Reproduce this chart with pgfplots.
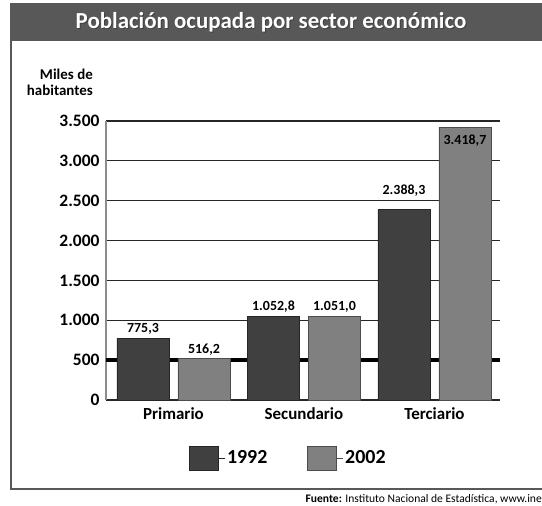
\documentclass[border=0pt]{standalone}
\usepackage{pgfplots}
\pgfplotsset{compat=1.18}
\usepackage{pgfplotstable}
\usepackage{fontspec}
\setmainfont{Carlito}
\definecolor{darkbar}{RGB}{64,64,64}
\definecolor{lightbar}{RGB}{128,128,128}
\definecolor{head}{RGB}{88,88,88}
\pgfplotstableread{
x y lab off
0 775.3 775,3 0
1 1052.8 1.052,8 0
2 2388.3 2.388,3 10
}\tabA
\pgfplotstableread{
x y lab off
0 516.2 516,2 0
1 1051.0 1.051,0 0
2 3418.7 3.418,7 -23
}\tabB
\begin{document}
\begin{tikzpicture}[x=1bp,y=1bp]
\begin{axis}[name=ax, scale only axis,
  width=394bp, height=279bp,
  xmin=-0.517, xmax=2.502, ymin=0, ymax=3500,
  xtick={0,1,2}, xticklabels={Primario,Secundario,Terciario},
  ytick={0,500,...,3500},
  /pgf/number format/1000 sep={.},
  /pgf/number format/assume math mode=true,
  xticklabel style={font=\fontsize{17}{19}\selectfont\bfseries, yshift=-4bp},
  yticklabel style={font=\fontsize{17.5}{20}\selectfont\bfseries, xshift=-3bp},
  major tick length=0,
  axis x line=bottom, axis y line=left,
  x axis line style={-, black!85, line width=1.5},
  y axis line style={-, black!45, line width=1.2},
  ymajorgrids, grid style={black!85, line width=1.2},
  extra y ticks={500}, extra y tick labels={},
  extra y tick style={grid style={black, line width=4}},
  clip=false,
  legend style={at={(0.463,-0.208)}, anchor=center, draw=none, fill=none,
    legend columns=2, font=\fontsize{20}{22}\selectfont\bfseries,
    /tikz/every even column/.append style={column sep=38bp}},
  nodes near coords style={font=\fontsize{14}{16}\selectfont\bfseries, text=black},
]
\addplot[ybar, bar width=52bp, bar shift=-30.5bp, fill=darkbar, draw=black!85, line width=0.8,
  legend image code/.code={\path (0bp,0bp) -- (35bp,0bp); \draw[fill=darkbar, draw=black!85] (0bp,-12bp) rectangle (29bp,12bp);},
  nodes near coords, point meta=explicit symbolic,
  visualization depends on={\thisrow{off} \as \laboff},
  every node near coord/.append style={xshift=-30.5bp, yshift=\laboff bp}]
  table[x=x, y=y, meta=lab] {\tabA};
\addlegendentry{1992}
\addplot[ybar, bar width=52bp, bar shift=30.5bp, fill=lightbar, draw=black!70, line width=0.8,
  legend image code/.code={\path (0bp,0bp) -- (35bp,0bp); \draw[fill=lightbar, draw=black!70] (0bp,-12bp) rectangle (29bp,12bp);},
  nodes near coords, point meta=explicit symbolic,
  visualization depends on={\thisrow{off} \as \laboff},
  every node near coord/.append style={xshift=30.5bp, yshift=\laboff bp}]
  table[x=x, y=y, meta=lab] {\tabB};
\addlegendentry{2002}
\end{axis}
\begin{scope}[shift={(ax.south west)}, shift={(-106,400)}]
\fill[head] (10,-3) rectangle (560,-41);
\draw[head, line width=2] (11,-4) rectangle (560,-489);
\node[text=black!75] at (272,-23.5) {\fontsize{23}{25}\selectfont\bfseries Población ocupada por sector económico};
\node[text=white] at (271,-22.5) {\fontsize{23}{25}\selectfont\bfseries Población ocupada por sector económico};
\node[align=right, anchor=east, inner sep=0, font=\fontsize{15}{16}\selectfont\bfseries] at (93,-82) {Miles de\\habitantes};
\node[anchor=east, inner sep=0, font=\fontsize{11.6}{13}\selectfont] at (542,-499) {\textbf{Fuente:} Instituto Nacional de Estadística, www.ine};
\pgfresetboundingbox
\path[use as bounding box] (0,0) rectangle (542,-506);
\end{scope}
\end{tikzpicture}
\end{document}
